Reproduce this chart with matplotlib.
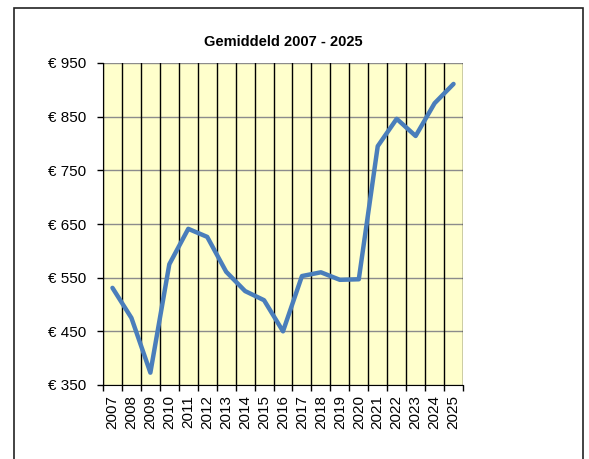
import numpy as np
import matplotlib
matplotlib.use('Agg')
import matplotlib.pyplot as plt
from matplotlib.patches import Rectangle

plt.rcParams['font.family'] = ['Liberation Sans', 'DejaVu Sans']

years = [str(y) for y in range(2007, 2026)]
avg_price = [531, 475, 373, 575, 641, 626, 561, 525, 508, 450,
             553, 560, 546, 547, 795, 846, 814, 875, 911]
y_ticks = [350, 450, 550, 650, 750, 850, 950]

fig = plt.figure(figsize=(5.89, 4.59), dpi=100)
W, H = 589, 459
ax = fig.add_axes([103 / W, 1 - 385 / H, 360 / W, 322 / H])

x = np.arange(len(years))
ax.plot(x, avg_price, color='#4a7ebb', lw=3.2, solid_joinstyle='round',
        solid_capstyle='round', zorder=3)

ax.set_facecolor('#ffffcc')
ax.set_xlim(-0.5, len(years) - 0.5)
ax.set_ylim(350, 950)

# horizontal grid (grey) and category borders (black)
for v in y_ticks:
    ax.axhline(v, color='#8c8c8c', lw=1.0, zorder=1)
for b in np.arange(-0.5, len(years), 1.0):
    ax.axvline(b, color='black', lw=1.0, zorder=1)

ax.set_yticks(y_ticks)
ax.set_yticklabels([f'€ {v}' for v in y_ticks], fontsize=11)
ax.tick_params(axis='y', length=4, width=1, pad=8)

ax.set_xticks(x)
ax.set_xticklabels(years, rotation=90, fontsize=11)
ax.tick_params(axis='x', which='major', length=0, pad=7)
ax.set_xticks(np.arange(-0.5, len(years), 1.0), minor=True)
ax.tick_params(axis='x', which='minor', length=4, width=1)

for s in ['top', 'right']:
    ax.spines[s].set_visible(False)
ax.spines['left'].set_color('black')
ax.spines['bottom'].set_color('black')

ax.set_title('Gemiddeld 2007 - 2025', fontsize=10.5, fontweight='bold', pad=12)

# outer chart border, running off the bottom of the image
fig.patches.append(Rectangle((14 / W, -0.1), (583 - 14) / W, 1.1 - 8 / H,
                             transform=fig.transFigure, fill=False,
                             edgecolor='#222222', lw=1.2, clip_on=False))

fig.savefig('out.png', dpi=100)
